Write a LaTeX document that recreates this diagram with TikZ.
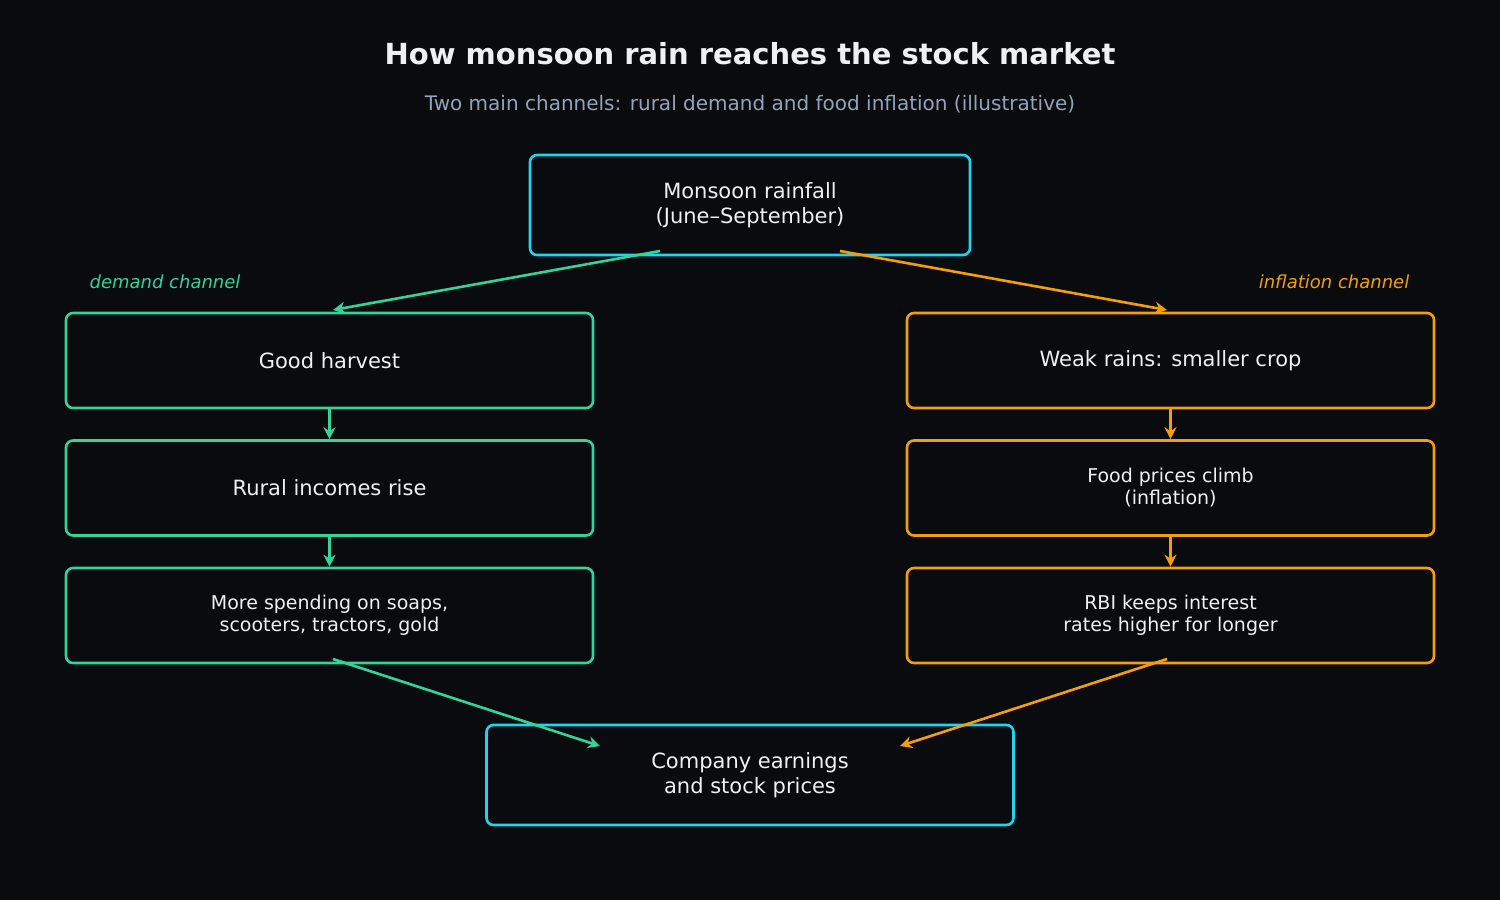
\documentclass[tikz,border=0pt]{standalone}
\usepackage{fontspec}
\setmainfont{DejaVu Sans}
\usetikzlibrary{arrows.meta,calc}
\definecolor{bg}{HTML}{0A0B0F}
\definecolor{cy}{HTML}{22D3EE}
\definecolor{gr}{HTML}{34D399}
\definecolor{og}{HTML}{F59E0B}
\definecolor{tx}{HTML}{EEF0F2}
\definecolor{sub}{HTML}{94A3B8}
\begin{document}
\begin{tikzpicture}[x=1pt,y=-1pt,
 box/.style={draw=#1,line width=2.6pt,rounded corners=7pt,fill=bg,text=tx,align=center,inner sep=0pt,font=\fontsize{21}{25}\selectfont},
 sm/.style={font=\fontsize{19}{22}\selectfont},
 arr/.style={draw=#1,line width=2.6pt,-{Stealth[length=12pt,width=12pt]}}]
\fill[bg] (0,0) rectangle (1500,900);
\useasboundingbox (0,0) rectangle (1500,900);
\node[text=tx,font=\bfseries\fontsize{29}{34}\selectfont] (title) at (750,54) {How monsoon rain reaches the stock market};
\node[text=sub,font=\fontsize{20}{24}\selectfont] (subt) at (750,104) {Two main channels: rural demand and food inflation (illustrative)};
\node[box=cy,minimum width=440pt,minimum height=100pt] (top) at (750,205) {Monsoon rainfall\\(June–September)};
\node[box=gr,minimum width=527pt,minimum height=95pt] (l1) at (329.5,360.5) {Good harvest};
\node[box=gr,minimum width=527pt,minimum height=95pt] (l2) at (329.5,488) {Rural incomes rise};
\node[box=gr,sm,minimum width=527pt,minimum height=95pt] (l3) at (329.5,615.5) {More spending on soaps,\\scooters, tractors, gold};
\node[box=og,minimum width=527pt,minimum height=95pt] (r1) at (1170.5,360.5) {Weak rains: smaller crop};
\node[box=og,sm,minimum width=527pt,minimum height=95pt] (r2) at (1170.5,488) {Food prices climb\\(inflation)};
\node[box=og,sm,minimum width=527pt,minimum height=95pt] (r3) at (1170.5,615.5) {RBI keeps interest\\rates higher for longer};
\node[box=cy,minimum width=527pt,minimum height=100pt] (bot) at (750,775) {Company earnings\\and stock prices};
\node[text=gr,font=\itshape\fontsize{18}{22}\selectfont] (dl) at (165,282) {demand channel};
\node[text=og,font=\itshape\fontsize{18}{22}\selectfont] (il) at (1334,282) {inflation channel};
\coordinate (a1) at (660,251); \coordinate (a2) at (333,310);
\coordinate (b1) at (840,251); \coordinate (b2) at (1167,310);
\coordinate (c1) at (333,659); \coordinate (c2) at (600,746);
\coordinate (d1) at (1167,659); \coordinate (d2) at (900,746);
\draw[arr=gr] (a1) -- (a2);
\draw[arr=og] (b1) -- (b2);
\draw[arr=gr] (c1) -- (c2);
\draw[arr=og] (d1) -- (d2);
\draw[arr=gr] (l1.south) -- (l2.north);
\draw[arr=gr] (l2.south) -- (l3.north);
\draw[arr=og] (r1.south) -- (r2.north);
\draw[arr=og] (r2.south) -- (r3.north);
\end{tikzpicture}
\end{document}
